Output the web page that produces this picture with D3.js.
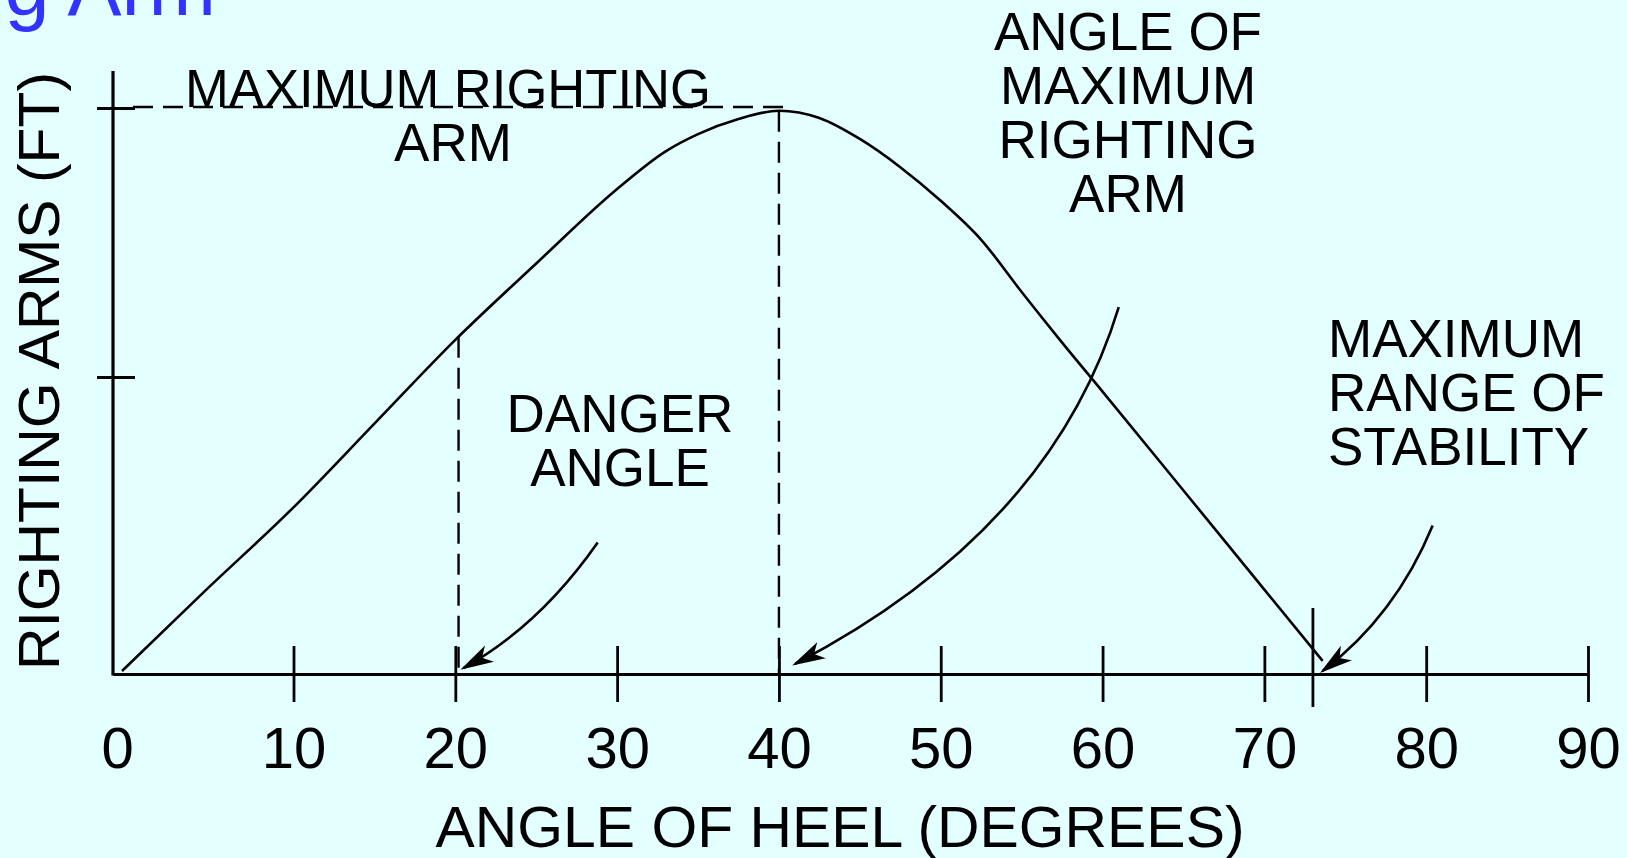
<!DOCTYPE html>
<html>
<head>
<meta charset="utf-8">
<script src="https://cdn.jsdelivr.net/npm/d3@7"></script>
<style>
html, body { margin: 0; padding: 0; background: #e4ffff; overflow: hidden; }
svg { display: block; }
text { font-family: "Liberation Sans", Arial, Helvetica, sans-serif; fill: #000; }
</style>
</head>
<body>
<div id="chart"></div>
<script>
// righting arm curve (degrees / ft, no units shown)
const heelAngles = [0.5, 5, 10, 15, 20, 25, 30, 33, 35, 37.5, 40, 42.5, 45, 47.5, 50, 52.5, 55, 57.5, 60, 65, 70, 73.6];
const rightingArms = [0.01, 0.274, 0.561, 0.843, 1.138, 1.422, 1.699, 1.839, 1.903, 1.959, 1.99, 1.963, 1.885, 1.78, 1.655, 1.51, 1.316, 1.128, 0.951, 0.618, 0.284, 0.044];

const xTicks = [0, 10, 20, 30, 40, 50, 60, 70, 80, 90];
const yTicks = [1, 2];

const dangerAngle = 20.2;
const maxArmAngle = 40;
const maxRangeAngle = 73;

// arrows: start, bend, tip  (degrees, ft)
const dangerArrow = [[28.8, 0.443], [25.2, 0.162], [20.5, 0.02]];
const maxArmArrow = [[61.0, 1.26], [56.8, 0.483], [41.0, 0.034]];
const maxRangeArrow = [[80.4, 0.5], [78.1, 0.196], [73.6, 0.01]];

const W = 1627, H = 858;

const svg = d3.select("#chart").append("svg")
    .attr("width", W)
    .attr("height", H);

// the drawing is not uniform between 0 and 10
const x = d3.scaleLinear().domain([0, 10, 90]).range([113, 293.5, 1588]);
const y = d3.scaleLinear().domain([0, 1, 2]).range([674, 377, 108]);

// title, cut by the left edge
svg.append("text")
    .attr("x", 216)
    .attr("y", 15)
    .attr("text-anchor", "end")
    .style("font-size", "81px")
    .style("fill", "#3333ff")
    .text("Righting Arm");

// dashed guides
const armAt = d3.scaleLinear().domain(heelAngles).range(rightingArms);
const peak = d3.max(rightingArms);

svg.append("line")
    .attr("x1", x(0) + 20).attr("x2", x(maxArmAngle) + 14)
    .attr("y1", y(2) - 1).attr("y2", y(2) - 1)
    .attr("stroke", "#000").attr("stroke-width", 2.5)
    .attr("stroke-dasharray", "20,10");

svg.append("line")
    .attr("x1", x(maxArmAngle)).attr("x2", x(maxArmAngle))
    .attr("y1", y(peak)).attr("y2", y(0))
    .attr("stroke", "#000").attr("stroke-width", 2.4)
    .attr("stroke-dasharray", "21,10");

svg.append("line")
    .attr("x1", x(dangerAngle)).attr("x2", x(dangerAngle))
    .attr("y1", y(armAt(dangerAngle))).attr("y2", y(0))
    .attr("stroke", "#000").attr("stroke-width", 2.4)
    .attr("stroke-dasharray", "21,10");

// x axis
const xAxis = d3.axisBottom(x)
    .tickValues(xTicks)
    .tickSize(28)
    .tickSizeOuter(0)
    .tickPadding(25)
    .tickFormat(d3.format("d"));

const gx = svg.append("g")
    .attr("transform", "translate(0," + y(0) + ")")
    .call(xAxis)
    .attr("font-family", null)
    .attr("font-size", 58);

gx.select(".domain").attr("stroke", "#000").attr("stroke-width", 3.2);
gx.selectAll(".tick line")
    .attr("y1", -28)
    .attr("stroke", "#000")
    .attr("stroke-width", 2.8)
    .filter(d => d === 0).remove();
gx.selectAll(".tick text").attr("fill", "#000")
    .filter(d => d === 0).attr("x", 4);

// range of stability marker
svg.append("line")
    .attr("x1", x(maxRangeAngle)).attr("x2", x(maxRangeAngle))
    .attr("y1", y(0) - 66).attr("y2", y(0) + 33)
    .attr("stroke", "#000").attr("stroke-width", 2.8);

// y axis
const yAxis = d3.axisLeft(y)
    .tickValues(yTicks)
    .tickSize(16)
    .tickFormat("");

const gy = svg.append("g")
    .attr("transform", "translate(" + x(0) + ",0)")
    .call(yAxis);
gy.select(".domain").remove();
gy.selectAll(".tick line").attr("x1", 22).attr("stroke", "#000").attr("stroke-width", 2.8);
gy.append("line")
    .attr("y1", 71).attr("y2", y(0) + 1.6)
    .attr("stroke", "#000").attr("stroke-width", 3.2);

// curve
const line = d3.line()
    .x((d, i) => x(heelAngles[i]))
    .y(d => y(d))
    .curve(d3.curveMonotoneX);

svg.append("path")
    .datum(rightingArms)
    .attr("d", line)
    .attr("fill", "none")
    .attr("stroke", "#000")
    .attr("stroke-width", 2.6);

// arrows
function drawArrow(pts) {
    const p = pts.map(d => [x(d[0]), y(d[1])]);
    const pth = d3.path();
    pth.moveTo(p[0][0], p[0][1]);
    pth.quadraticCurveTo(p[1][0], p[1][1], p[2][0], p[2][1]);
    svg.append("path")
        .attr("d", pth.toString())
        .attr("fill", "none")
        .attr("stroke", "#000")
        .attr("stroke-width", 2.6);

    const ang = Math.atan2(p[1][1] - p[2][1], p[1][0] - p[2][0]);
    const len = 28, spread = 0.27;
    const b1 = [p[2][0] + len * Math.cos(ang - spread), p[2][1] + len * Math.sin(ang - spread)];
    const b2 = [p[2][0] + len * Math.cos(ang + spread), p[2][1] + len * Math.sin(ang + spread)];
    const notch = [p[2][0] + 20 * Math.cos(ang), p[2][1] + 20 * Math.sin(ang)];
    svg.append("path")
        .attr("d", "M" + b1 + "L" + p[2] + "L" + b2 + "L" + notch + "Z")
        .attr("fill", "#000")
        .attr("stroke", "#000")
        .attr("stroke-width", 1.8)
        .attr("stroke-linejoin", "miter");
}
drawArrow(dangerArrow);
drawArrow(maxArmArrow);
drawArrow(maxRangeArrow);

// labels
function label(lines, px, py, anchor, len) {
    const t = svg.append("text")
        .attr("text-anchor", anchor)
        .style("font-size", "53px");
    lines.forEach((s, i) => {
        const ts = t.append("tspan").attr("x", px).attr("y", py + i * 54).text(s);
        if (len) ts.attr("textLength", len).attr("lengthAdjust", "spacingAndGlyphs");
    });
}
label(["MAXIMUM RIGHTING"], 448, 107, "middle", 526);
label(["ARM"], 453, 161, "middle");
label(["ANGLE OF", "MAXIMUM", "RIGHTING", "ARM"], 1128, 50, "middle");
label(["DANGER", "ANGLE"], 620, 432, "middle");
label(["MAXIMUM", "RANGE OF", "STABILITY"], 1328, 357, "start");

// axis titles
svg.append("text")
    .attr("x", 840)
    .attr("y", 847)
    .attr("text-anchor", "middle")
    .attr("textLength", 809)
    .attr("lengthAdjust", "spacingAndGlyphs")
    .style("font-size", "58px")
    .text("ANGLE OF HEEL (DEGREES)");

svg.append("text")
    .attr("transform", "translate(59,371) rotate(-90)")
    .attr("text-anchor", "middle")
    .attr("textLength", 598)
    .attr("lengthAdjust", "spacingAndGlyphs")
    .style("font-size", "58px")
    .text("RIGHTING ARMS (FT)");
</script>
</body>
</html>
